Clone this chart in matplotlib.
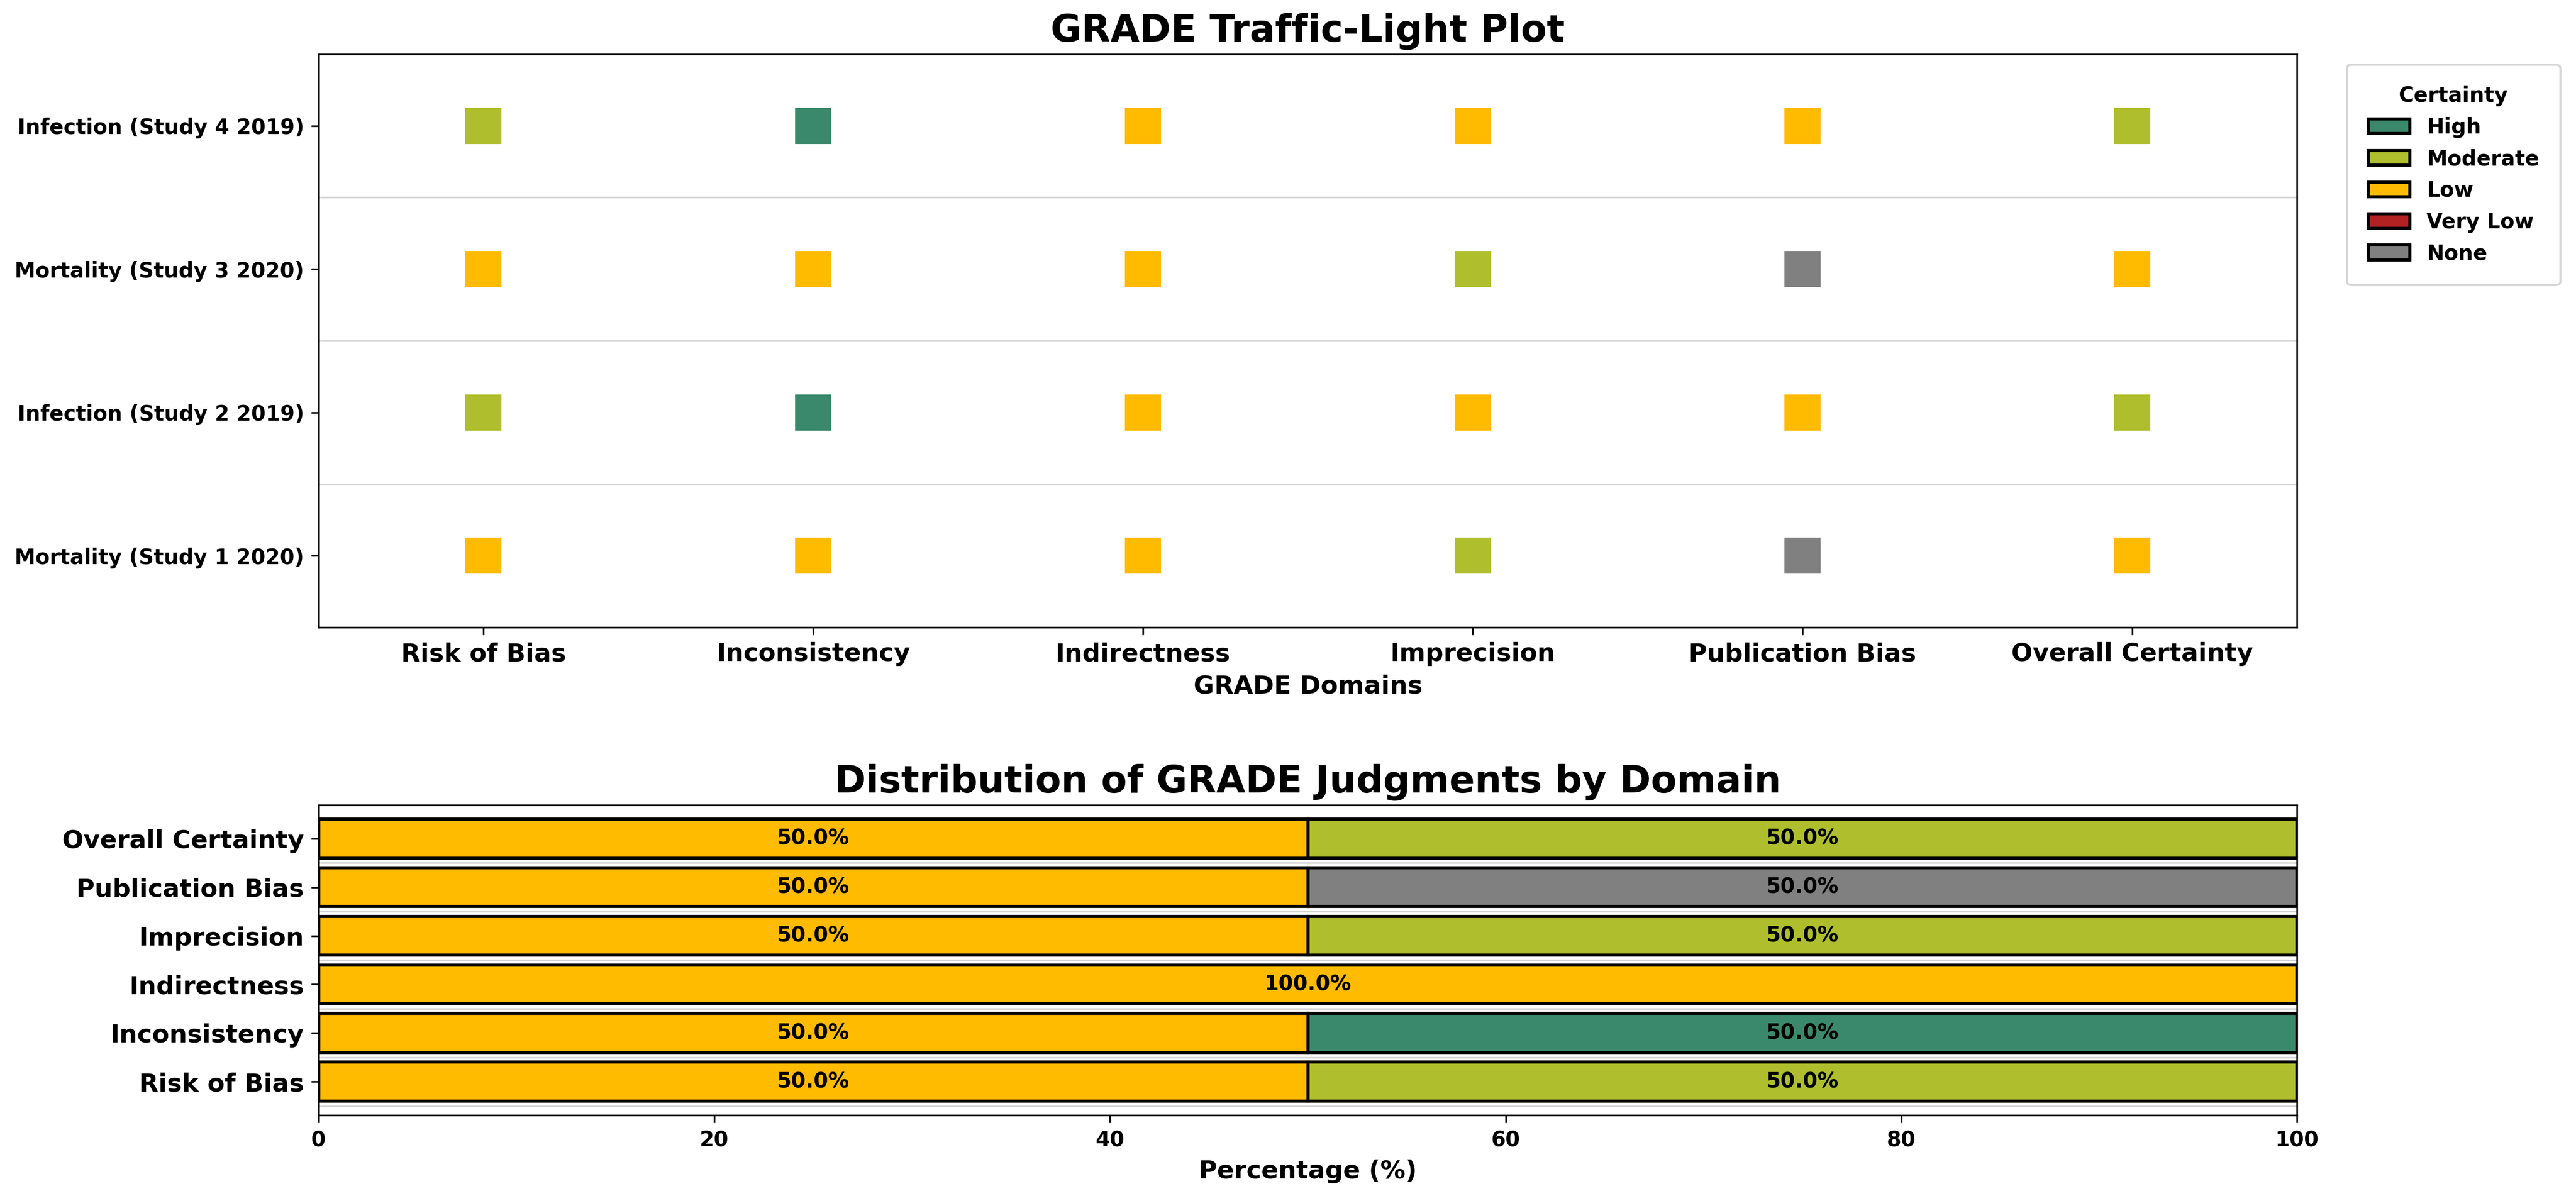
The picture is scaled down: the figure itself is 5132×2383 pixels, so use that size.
import matplotlib
matplotlib.use("Agg")
import matplotlib.pyplot as plt
from matplotlib.patches import Patch
import numpy as np

plt.rcParams["font.family"] = ["DejaVu Sans"]
plt.rcParams["font.weight"] = "bold"
plt.rcParams["axes.labelweight"] = "bold"
plt.rcParams["axes.titleweight"] = "bold"

# --- data -----------------------------------------------------------------
domains = ["Risk of Bias", "Inconsistency", "Indirectness",
           "Imprecision", "Publication Bias", "Overall Certainty"]
studies = ["Mortality (Study 1 2020)", "Infection (Study 2 2019)",
           "Mortality (Study 3 2020)", "Infection (Study 4 2019)"]

study1 = ["Low", "Low", "Low", "Moderate", "None", "Low"]
study2 = ["Moderate", "High", "Low", "Low", "Low", "Moderate"]
study3 = ["Low", "Low", "Low", "Moderate", "None", "Low"]
study4 = ["Moderate", "High", "Low", "Low", "Low", "Moderate"]
judgments = [study1, study2, study3, study4]

levels = ["High", "Moderate", "Low", "Very Low", "None"]
level_colors = {
    "High": "#3b896d",
    "Moderate": "#afbe2d",
    "Low": "#ffbb00",
    "Very Low": "#b22222",
    "None": "#808080",
}
stack_order = ["Low", "Moderate", "High", "Very Low", "None"]

# --- figure ---------------------------------------------------------------
fig = plt.figure(figsize=(5132 / 300, 2383 / 300), dpi=300)
ax1 = fig.add_axes([0.1237, 0.4754, 0.768, 0.4793])
ax2 = fig.add_axes([0.1237, 0.0676, 0.768, 0.2593])

# traffic-light grid
for i, row in enumerate(judgments):
    for j, lvl in enumerate(row):
        ax1.scatter(j, i, s=300, marker="s", color=level_colors[lvl],
                    linewidths=0, zorder=3)
for i in range(len(studies)):
    ax1.axhline(i - 0.5, color="lightgray", linewidth=0.8, zorder=1)

ax1.set_xlim(-0.5, len(domains) - 0.5)
ax1.set_ylim(-0.5, len(studies) - 0.5)
ax1.set_xticks(range(len(domains)))
ax1.set_xticklabels(domains, fontsize=12, fontweight="bold")
ax1.set_yticks(range(len(studies)))
ax1.set_yticklabels(studies, fontsize=10, fontweight="bold")
ax1.set_xlabel("GRADE Domains", fontsize=12, fontweight="bold")
ax1.set_title("GRADE Traffic-Light Plot", fontsize=18, fontweight="bold")

handles = [Patch(facecolor=level_colors[l], edgecolor="black",
                 linewidth=1.5, label=l) for l in levels]
leg = ax1.legend(handles=handles, title="Certainty", loc="upper left",
                 bbox_to_anchor=(1.02, 1), fontsize=10, borderpad=1,
                 title_fontproperties={"weight": "bold", "size": 10})

# distribution of judgments per domain
n = len(judgments)
y = np.arange(len(domains))
left = np.zeros(len(domains))
for lvl in stack_order:
    pct = np.array([sum(r[j] == lvl for r in judgments) / n * 100
                    for j in range(len(domains))])
    mask = pct > 0
    if not mask.any():
        continue
    bars = ax2.barh(y[mask], pct[mask], left=left[mask],
                    color=level_colors[lvl], edgecolor="black", linewidth=1.5)
    ax2.bar_label(bars, labels=[f"{p:.1f}%" for p in pct[mask]],
                  label_type="center", fontsize=10, fontweight="bold")
    left += pct
for i in range(len(domains)):
    ax2.axhline(i - 0.5, color="lightgray", linewidth=0.8, zorder=0)

ax2.set_xlim(0, 100)
ax2.set_yticks(y)
ax2.set_yticklabels(domains, fontsize=12, fontweight="bold")
ax2.tick_params(axis="x", labelsize=10)
ax2.set_xlabel("Percentage (%)", fontsize=12, fontweight="bold")
ax2.set_title("Distribution of GRADE Judgments by Domain",
              fontsize=18, fontweight="bold")

fig.savefig("out.png", dpi=300)
